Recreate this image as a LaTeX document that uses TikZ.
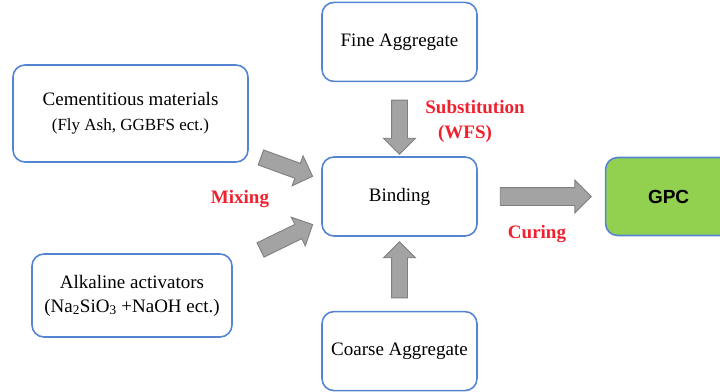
\documentclass[tikz,border=0pt]{standalone}
\usepackage{fontspec}
\setmainfont{Liberation Serif}
\newfontfamily\gpcfont{Liberation Sans}
\usetikzlibrary{positioning,calc,shapes.arrows}
\definecolor{boxblue}{HTML}{5585D2}
\definecolor{arrfill}{HTML}{A3A3A3}
\definecolor{arrline}{HTML}{7F7F7F}
\definecolor{lblred}{HTML}{F0202E}
\definecolor{gpcgreen}{HTML}{92D050}
\tikzset{
  matbox/.style={draw=boxblue, line width=1.6pt, rounded corners=12pt, align=center, font=\fontsize{19}{24}\selectfont, inner sep=2pt, minimum width=155pt, minimum height=79pt},
  bigarr/.style={single arrow, draw=arrline, fill=arrfill, line width=0.9pt, inner xsep=0pt, inner ysep=7.5pt, minimum width=31pt, single arrow head extend=8pt, single arrow tip angle=90},
  redlbl/.style={text=lblred, font=\fontsize{19}{24}\selectfont\bfseries, anchor=base}
}

\begin{document}
\begin{tikzpicture}[x=1pt,y=-1pt]
\clip (0,0) rectangle (720,391);
\node[matbox] (bd) at (399.5,196.5) {Binding};
\node[matbox, above=74pt of bd] (fa) {Fine Aggregate};
\node[matbox, below=74pt of bd] (ca) {Coarse Aggregate};
\node[matbox, minimum width=235pt, minimum height=97pt] (cm) at (130.5,113.5) {Cementitious materials\\[1pt]{\fontsize{17}{20}\selectfont (Fly Ash, GGBFS ect.)}};
\node[matbox, minimum width=200pt, minimum height=83pt] (al) at (132,295.5) {Alkaline activators\\(Na\textsubscript{2}SiO\textsubscript{3} +NaOH ect.)};
\node[matbox, fill=gpcgreen, font=\gpcfont\bfseries\fontsize{19}{24}\selectfont, minimum width=126pt, minimum height=78pt, right=127pt of bd] (gp) {GPC};
% block arrows
\node[bigarr, rotate=-90, minimum height=54pt] (d1) at ($(fa.south)!0.5!(bd.north)+(0,4)$) {};
\node[bigarr, rotate=90, minimum height=56pt] (u1) at ($(ca.north)!0.5!(bd.south)$) {};
\node[bigarr, rotate=-20, minimum height=55pt] (m1) at (283,165.5) {};
\node[bigarr, rotate=26, minimum height=58pt] (m2) at (283,239) {};
\node[bigarr, minimum height=91pt, minimum width=32pt, inner ysep=8.5pt, single arrow head extend=7.5pt] (c1) at ($(bd.east)!0.5!(gp.west)$) {};
% labels
\node[redlbl] (sub) at (475,113) {Substitution};
\node[redlbl] (wfs) at (465,138) {(WFS)};
\node[redlbl] (mix) at (240,203) {Mixing};
\node[redlbl] (cur) at (537,238) {Curing};
\end{tikzpicture}
\end{document}
